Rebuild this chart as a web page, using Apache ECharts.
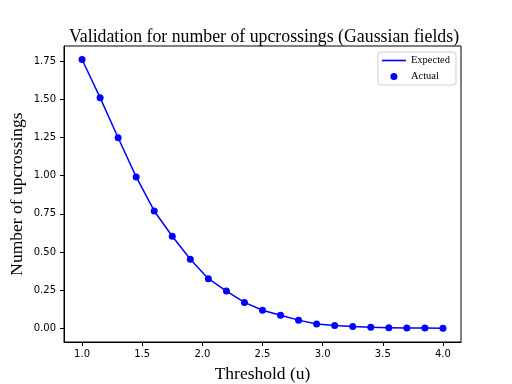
<!DOCTYPE html>
<html><head><meta charset="utf-8">
<script src="https://cdn.jsdelivr.net/npm/echarts@6/dist/echarts.min.js"></script>
<style>html,body{margin:0;padding:0;background:#fff}#c{width:512px;height:384px}</style>
</head><body><div id="c"></div>
<script>
const thresholds = [1.0,1.15,1.3,1.45,1.6,1.75,1.9,2.05,2.2,2.35,2.5,2.65,2.8,2.95,3.1,3.25,3.4,3.55,3.7,3.85,4.0];
const expected = [1.76,1.51,1.248,0.992,0.769,0.604,0.453,0.326,0.245,0.171,0.120,0.087,0.055,0.030,0.020,0.013,0.008,0.006,0.004,0.003,0.002];
const actual   = [1.76,1.51,1.248,0.992,0.769,0.604,0.453,0.326,0.245,0.171,0.120,0.087,0.055,0.030,0.020,0.013,0.008,0.006,0.004,0.003,0.002];
const xTicks = [1.0,1.5,2.0,2.5,3.0,3.5,4.0];
const yTicks = [0,0.25,0.5,0.75,1.0,1.25,1.5,1.75];

const chart = echarts.init(document.getElementById('c'));
chart.setOption({
  animation:false,
  backgroundColor:'#fff',
  title:{text:'Validation for number of upcrossings (Gaussian fields)',left:259,textAlign:'center',top:23,
    textStyle:{fontFamily:'Liberation Serif',fontSize:17.8,fontWeight:'normal',color:'#000'}},
  grid:{left:64,right:51,top:46,bottom:42,show:true,borderColor:'#000',borderWidth:1,backgroundColor:'transparent',outerBoundsMode:'none',containLabel:false},
  legend:{orient:'vertical',right:56,top:52,itemWidth:24,itemHeight:7,itemGap:5,padding:[3,6,3,4],
    borderColor:'#d0d0d0',borderWidth:1,borderRadius:3,backgroundColor:'#fff',
    textStyle:{fontFamily:'Liberation Serif',fontSize:10.5,color:'#000'},
    data:[{name:'Expected',icon:'path://M0,0H24V1.6H0Z'},{name:'Actual',icon:'circle'}]},
  xAxis:{type:'value',min:0.85,max:4.15,name:'Threshold (u)',nameLocation:'middle',nameGap:23,nameMoveOverlap:false,
    nameTextStyle:{fontFamily:'Liberation Serif',fontSize:17.5,color:'#000'},
    splitLine:{show:false},axisLine:{show:true,onZero:false,lineStyle:{color:'#000'}},
    axisTick:{show:true,length:4,customValues:xTicks,lineStyle:{color:'#000'}},
    axisLabel:{customValues:xTicks,formatter:v=>v.toFixed(1),fontFamily:'DejaVu Sans',fontSize:10,color:'#000',margin:7}},
  yAxis:{type:'value',min:-0.088,max:1.848,name:'Number of upcrossings',nameLocation:'middle',nameGap:38,nameMoveOverlap:false,
    nameTextStyle:{fontFamily:'Liberation Serif',fontSize:17.5,color:'#000'},
    splitLine:{show:false},axisLine:{show:true,onZero:false,lineStyle:{color:'#000'}},
    axisTick:{show:true,length:4,customValues:yTicks,lineStyle:{color:'#000'}},
    axisLabel:{customValues:yTicks,formatter:v=>v.toFixed(2),fontFamily:'DejaVu Sans',fontSize:10,color:'#000',margin:8}},
  series:[
    {name:'Expected',type:'line',data:thresholds.map((t,i)=>[t,expected[i]]),symbol:'none',
      lineStyle:{color:'#0000ff',width:1.5},itemStyle:{color:'#0000ff'},z:2},
    {name:'Actual',type:'scatter',data:thresholds.map((t,i)=>[t,actual[i]]),symbol:'circle',symbolSize:7,
      itemStyle:{color:'#0000ff',opacity:1},z:3}
  ]
});
</script></body></html>
